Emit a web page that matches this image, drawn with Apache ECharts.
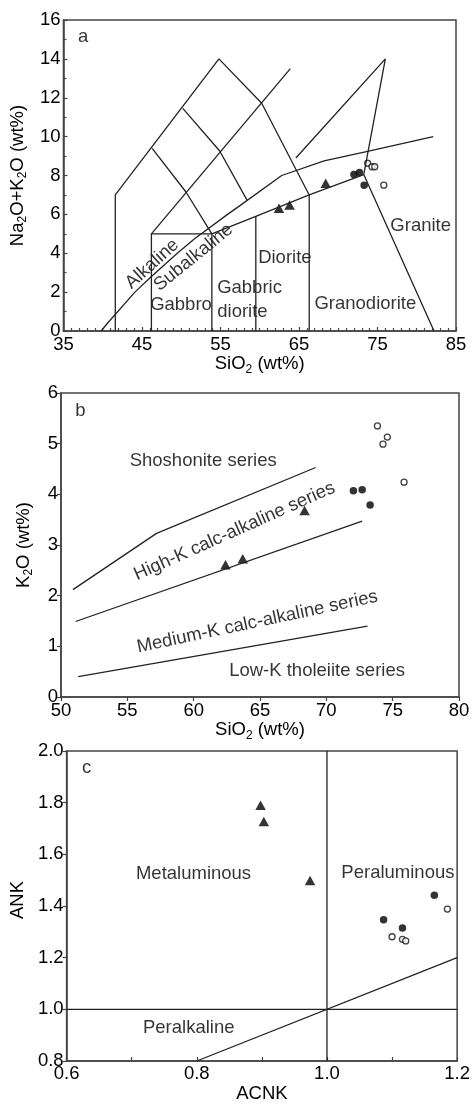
<!DOCTYPE html>
<html><head><meta charset="utf-8">
<script src="https://cdn.jsdelivr.net/npm/echarts@6/dist/echarts.min.js"></script>
<style>html,body{margin:0;padding:0;background:#fff}#c{width:473px;height:1104px}</style>
</head><body><div id="c"></div>
<script>
// ---------- Panel a : TAS (SiO2 vs Na2O+K2O) ----------
const tasOuter   = [[41.6,0],[41.6,7.0],[54.8,14.0],[60.25,11.72],[66.3,7.0],[66.3,0]];
const tasDiag    = [[46.2,5.0],[63.9,13.5]];
const tasInnerA  = [[46.3,9.4],[50.6,7.15],[53.9,5.0]];
const tasInnerB  = [[50.2,11.45],[54.9,9.26],[58.4,6.72]];
const tasIrvine  = [[39.8,0],[40.6,0.4],[44.1,2.0],[46.2,2.8],[49.5,4.0],[51.7,4.75],[55.9,6.0],[57.3,6.4],[62.8,8.0],[68.2,8.75],[73.45,9.22],[82.1,10.0]];
const tasSlope   = [[53.9,5.0],[59.5,5.9],[66.3,7.0],[73.25,8.05]];
const tasGabbro  = [[46.2,0],[46.2,5.0],[53.9,5.0],[53.9,0]];
const tasDiorite = [[59.5,0],[59.5,5.9]];
const tasGranite = [[64.6,8.9],[76.0,14.0],[73.25,8.05],[82.2,0]];
const tasTriangles = [[62.45,6.31],[63.8,6.48],[68.4,7.6]];
const tasFilled    = [[72.0,8.05],[72.7,8.15],[73.3,7.5]];
const tasOpen      = [[73.75,8.63],[74.3,8.45],[74.65,8.45],[75.8,7.5]];

// ---------- Panel b : SiO2 vs K2O ----------
const kShoshonite = [[50.9,2.12],[57.2,3.23],[69.2,4.53]];
const kHighK      = [[51.1,1.49],[72.7,3.47]];
const kMediumK    = [[51.3,0.40],[73.1,1.40]];
const kTriangles  = [[62.4,2.61],[63.7,2.73],[68.36,3.68]];
const kFilled     = [[72.04,4.07],[72.7,4.09],[73.3,3.79]];
const kOpen       = [[73.85,5.35],[74.6,5.13],[74.27,4.99],[75.86,4.24]];

// ---------- Panel c : ACNK vs ANK ----------
const aVertical   = [[1.0,0.8],[1.0,2.0]];
const aHorizontal = [[0.6,1.0],[1.2,1.0]];
const aDiagonal   = [[0.8,0.8],[1.2,1.2]];
const aTriangles  = [[0.898,1.79],[0.903,1.727],[0.974,1.499]];
const aFilled     = [[1.087,1.347],[1.116,1.315],[1.165,1.442]];
const aOpen       = [[1.100,1.281],[1.116,1.271],[1.121,1.265],[1.185,1.388]];

const F = '"Liberation Sans", Arial, sans-serif';
const TXT = '#000';
const AX = '#444';
const LINE = '#222';
const FS = 18.5;

const rich = {
  a: {fontSize: FS, fontFamily: F, color: TXT, verticalAlign: 'top'},
  s: {fontSize: 12, fontFamily: F, color: TXT, verticalAlign: 'top', padding: [9,0,0,0]}
};

function xAxis(gi, min, max, interval, opts) {
  return Object.assign({
    gridIndex: gi, type: 'value', min, max, interval,
    axisLine: {show: true, onZero: false, lineStyle: {color: AX, width: 1.5}},
    axisTick: {show: true, inside: false, length: 4, lineStyle: {color: AX, width: 1.2}},
    splitLine: {show: false},
    axisLabel: {fontSize: FS, color: TXT, fontFamily: F, margin: 4},
    nameLocation: 'middle', nameGap: 20,
    nameTextStyle: {rich}
  }, opts || {});
}
function yAxis(gi, min, max, interval, opts) {
  return Object.assign({
    gridIndex: gi, type: 'value', min, max, interval,
    axisLine: {show: true, onZero: false, lineStyle: {color: AX, width: 1.5}},
    axisTick: {show: true, inside: false, length: 4, lineStyle: {color: AX, width: 1.2}},
    splitLine: {show: false},
    axisLabel: {fontSize: FS, color: TXT, fontFamily: F, margin: 3},
    nameLocation: 'middle', nameGap: 26, nameRotate: 90,
    nameTextStyle: {rich}
  }, opts || {});
}

const series = [];
function addLine(gi, data) {
  series.push({type: 'line', xAxisIndex: gi, yAxisIndex: gi, data, symbol: 'none', silent: true,
    lineStyle: {color: LINE, width: 1.3}, animation: false});
}
function addPoints(gi, tri, filled, open) {
  series.push({type: 'scatter', xAxisIndex: gi, yAxisIndex: gi, data: tri, symbol: 'triangle', symbolSize: [10.5, 9.5],
    itemStyle: {color: '#000'}, silent: true, animation: false});
  series.push({type: 'scatter', xAxisIndex: gi, yAxisIndex: gi, data: filled, symbol: 'circle', symbolSize: 7.5,
    itemStyle: {color: '#000'}, silent: true, animation: false});
  series.push({type: 'scatter', xAxisIndex: gi, yAxisIndex: gi, data: open, symbol: 'circle', symbolSize: 6,
    itemStyle: {color: '#fff', borderColor: '#111', borderWidth: 1.3}, silent: true, animation: false});
}
function addLabels(gi, items) {
  series.push({type: 'scatter', xAxisIndex: gi, yAxisIndex: gi, symbolSize: 1, silent: true, animation: false,
    itemStyle: {color: 'rgba(0,0,0,0)'},
    label: {show: true, position: 'inside', fontSize: FS, fontFamily: F, color: TXT, align: 'center', verticalAlign: 'middle'},
    data: items.map(it => ({value: [it[0], it[1]], label: {formatter: it[2], rotate: it[3] || 0}}))});
}

[tasOuter, tasDiag, tasInnerA, tasInnerB, tasIrvine, tasSlope, tasGabbro, tasDiorite, tasGranite].forEach(d => addLine(0, d));
addPoints(0, tasTriangles, tasFilled, tasOpen);
addLabels(0, [
  [37.5, 15.14, 'a'],
  [46.3, 3.45, 'Alkaline', 42],
  [51.55, 3.78, 'Subalkaline', 39],
  [49.97, 1.34, 'Gabbro'],
  [58.7, 2.2, 'Gabbric'],
  [57.8, 0.99, 'diorite'],
  [63.2, 3.74, 'Diorite'],
  [73.45, 1.39, 'Granodiorite'],
  [80.5, 5.40, 'Granite']
]);

[kShoshonite, kHighK, kMediumK].forEach(d => addLine(1, d));
addPoints(1, kTriangles, kFilled, kOpen);
addLabels(1, [
  [51.46, 5.64, 'b'],
  [60.72, 4.65, 'Shoshonite series'],
  [63.08, 3.27, 'High-K calc-alkaline series', 24],
  [64.8, 1.48, 'Medium-K calc-alkaline series', 12],
  [69.3, 0.52, 'Low-K tholeiite series']
]);

[aVertical, aHorizontal, aDiagonal].forEach(d => addLine(2, d));
addPoints(2, aTriangles, aFilled, aOpen);
addLabels(2, [
  [0.6306, 1.935, 'c'],
  [0.795, 1.524, 'Metaluminous'],
  [1.109, 1.528, 'Peraluminous'],
  [0.7876, 0.930, 'Peralkaline']
]);

const gridStyle = {show: true, borderColor: AX, borderWidth: 1.5, backgroundColor: 'transparent'};
const fmt1 = v => (Math.round(v * 10) / 10).toFixed(1);

const option = {
  animation: false,
  backgroundColor: '#fff',
  textStyle: {fontFamily: F},
  grid: [
    Object.assign({left: 62, top: 20, width: 394, height: 311}, gridStyle),
    Object.assign({left: 61, top: 393, width: 398, height: 304}, gridStyle),
    Object.assign({left: 61, top: 751, width: 397, height: 317}, gridStyle)
  ],
  xAxis: [
    xAxis(0, 35, 85, 10, {
      axisTick: {show: true, inside: true, length: 4, lineStyle: {color: AX, width: 1.2}},
      minorTick: {show: true, splitNumber: 10, length: 3, lineStyle: {color: AX, width: 1.2}},
      name: '{a|SiO}{s|2}{a| (wt%)}'
    }),
    xAxis(1, 50, 80, 5, {name: '{a|SiO}{s|2}{a| (wt%)}'}),
    xAxis(2, 0.6, 1.2, 0.2, {
      axisTick: {show: true, inside: true, length: 4, lineStyle: {color: AX, width: 1.2}},
      minorTick: {show: true, splitNumber: 2, length: 4, lineStyle: {color: AX, width: 1.2}},
      axisLabel: {fontSize: FS, color: TXT, fontFamily: F, margin: 3, formatter: fmt1},
      name: '{a|ACNK}', nameGap: 23
    })
  ],
  yAxis: [
    yAxis(0, 0, 16, 2, {
      axisTick: {show: true, inside: true, length: 4, lineStyle: {color: AX, width: 1.2}},
      minorTick: {show: true, splitNumber: 2, length: 3, lineStyle: {color: AX, width: 1.2}},
      name: '{a|Na}{s|2}{a|O+K}{s|2}{a|O (wt%)}'
    }),
    yAxis(1, 0, 6, 1, {name: '{a|K}{s|2}{a|O (wt%)}'}),
    yAxis(2, 0.8, 2.0, 0.2, {
      axisLabel: {fontSize: FS, color: TXT, fontFamily: F, margin: 3, formatter: fmt1},
      name: '{a|ANK}', nameTextStyle: {rich, padding: [0, 0, 0, 12]}
    })
  ],
  series
};
const chart = echarts.init(document.getElementById('c'), null, {renderer: 'canvas'});
chart.setOption(option);
</script></body></html>
